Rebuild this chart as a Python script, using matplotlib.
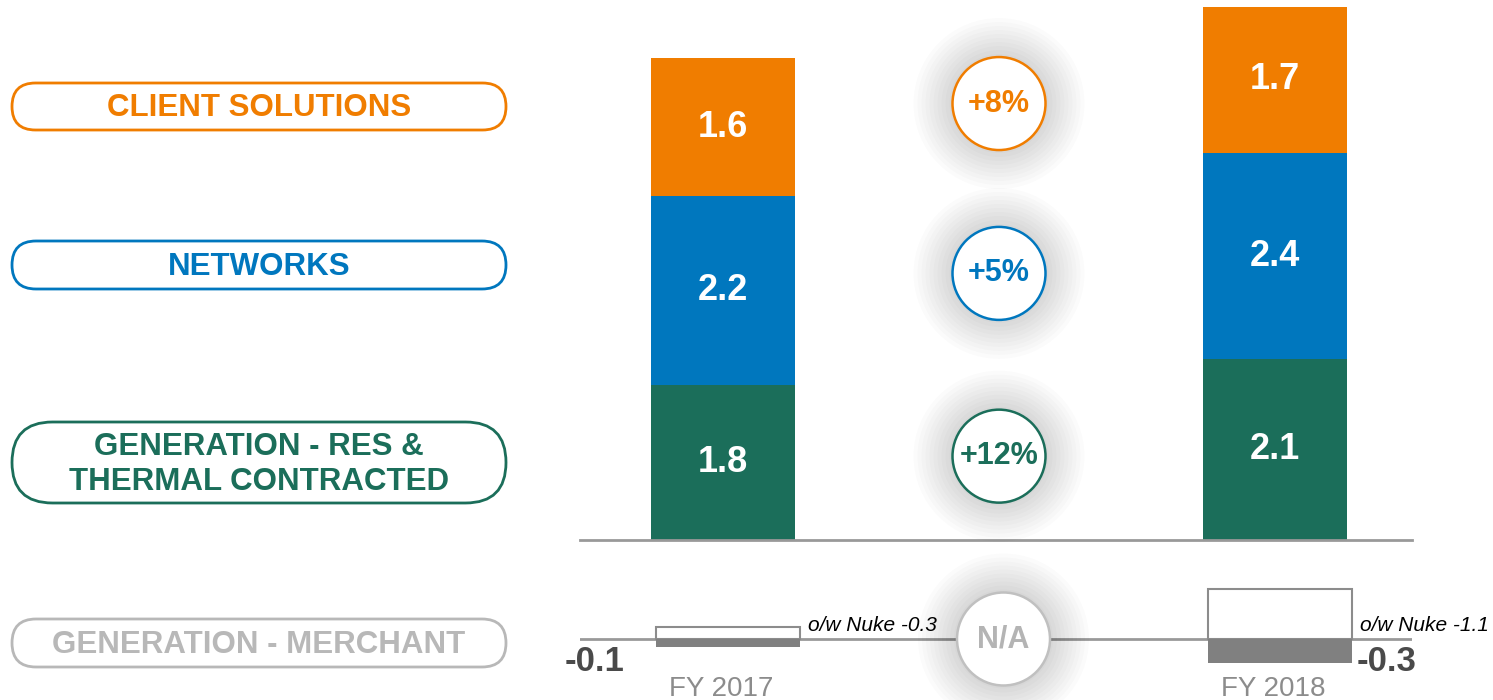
import matplotlib
matplotlib.use("Agg")
import matplotlib.pyplot as plt
from matplotlib.patches import Ellipse, FancyBboxPatch

plt.rcParams["font.family"] = ["Liberation Sans", "DejaVu Sans"]

# -----------------------------------------------------------------------------
# Data
# -----------------------------------------------------------------------------
years = ["FY 2017", "FY 2018"]
gen_res = [1.8, 2.1]        # Generation - RES & thermal contracted
networks = [2.2, 2.4]
client = [1.6, 1.7]
growth = ["+12%", "+5%", "+8%"]   # same order as the stack, bottom to top
merchant = [-0.1, -0.3]
nuke = [-0.3, -1.1]
merchant_box = [0.15, 0.62]  # white outline box above the merchant line
side_labels = ["CLIENT SOLUTIONS", "NETWORKS",
               "GENERATION - RES &\nTHERMAL CONTRACTED", "GENERATION - MERCHANT"]

ORANGE = "#F07D00"
BLUE = "#0077BE"
GREEN = "#1B6E5A"
LIGHT_GREY = "#B8B8B8"
LINE_GREY = "#999999"
BAR_GREY = "#808080"
stack_colors = [GREEN, BLUE, ORANGE]
label_colors = [ORANGE, BLUE, GREEN, LIGHT_GREY]

W, H = 1493, 700
fig = plt.figure(figsize=(W / 100, H / 100), dpi=100)

# background axes in pixel coordinates for the pill labels
ax_bg = fig.add_axes([0, 0, 1, 1])
ax_bg.set_xlim(0, W)
ax_bg.set_ylim(H, 0)
ax_bg.axis("off")

# pill boxes: (top, height) in pixels
pill_boxes = [(83, 47), (241, 48), (422, 81), (619, 48)]
for name, col, (top, hgt) in zip(side_labels, label_colors, pill_boxes):
    ax_bg.add_patch(FancyBboxPatch((12, top), 494, hgt,
                                   boxstyle=f"round,pad=0,rounding_size={hgt / 2}",
                                   facecolor="white", edgecolor=col, linewidth=2))
    ax_bg.text(259, top + hgt / 2 + 2, name, ha="center", va="center", color=col,
               fontsize=22.5, fontweight="bold", linespacing=1.2)

# -----------------------------------------------------------------------------
# Main stacked bars
# -----------------------------------------------------------------------------
PX_X = 552.0   # pixels per x unit
PX_Y = 86.0    # pixels per y unit (top axes)
ax = fig.add_axes([580 / W, 1 - 540 / H, 832 / W, 540 / H])
ax.set_xlim((580 - 723) / PX_X, (1412 - 723) / PX_X)
ax.set_ylim(0, 540 / PX_Y)
ax.axis("off")

x = [0, 1]
bw = 144 / PX_X
bottoms = [0.0, 0.0]
mids = []
for vals, col in zip([gen_res, networks, client], stack_colors):
    ax.bar(x, vals, bw, bottom=bottoms, color=col, zorder=2)
    seg_mid = []
    for xi, b, v in zip(x, bottoms, vals):
        ax.text(xi, b + v / 2, f"{v:.1f}", ha="center", va="center", color="white",
                fontsize=26, fontweight="bold", zorder=3)
        seg_mid.append(b + v / 2)
    mids.append(sum(seg_mid) / len(seg_mid))
    bottoms = [b + v for b, v in zip(bottoms, vals)]
ax.axhline(0, color=LINE_GREY, linewidth=2, zorder=4, clip_on=False)

R = 46.5


def badge(axis, cx, cy, text, col, sx, sy, text_col=None):
    """Circle with a soft grey glow and a bold label."""
    for k in range(3, 40, 4):
        axis.add_patch(Ellipse((cx, cy), 2 * (R + k) / sx, 2 * (R + k) / sy,
                               facecolor="black", edgecolor="none", alpha=0.017,
                               zorder=5, clip_on=False))
    axis.add_patch(Ellipse((cx, cy), 2 * R / sx, 2 * R / sy, facecolor="white",
                           edgecolor=col, linewidth=1.8, zorder=6, clip_on=False))
    axis.text(cx, cy, text, ha="center", va="center", color=text_col or col,
              fontsize=22, fontweight="bold", zorder=7)


for g, cy, col in zip(growth, mids, stack_colors):
    badge(ax, 0.5, cy, g, col, PX_X, PX_Y)

# -----------------------------------------------------------------------------
# Generation - merchant strip
# -----------------------------------------------------------------------------
PX_YB = 80.0
shift = 4.5 / PX_X
axb = fig.add_axes([580 / W, 0, 832 / W, 140 / H])
axb.set_xlim((580 - 723) / PX_X - shift, (1412 - 723) / PX_X - shift)
axb.set_ylim(-61 / PX_YB, 79 / PX_YB)
axb.axis("off")

axb.axhline(0, color=LINE_GREY, linewidth=2, zorder=1)
axb.bar(x, merchant_box, bw, facecolor="white", edgecolor="#8C8C8C", linewidth=1.5, zorder=2)
axb.bar(x, merchant, bw, color=BAR_GREY, zorder=3)
badge(axb, 0.5, 0, "N/A", "#C0C0C0", PX_X, PX_YB, text_col="#B4B4B4")

for i, (xi, m, n, yr) in enumerate(zip(x, merchant, nuke, years)):
    axb.annotate(f"o/w Nuke {n:.1f}", xy=(xi + bw / 2, 0.1), xytext=(6, 0),
                 textcoords="offset points", ha="left", va="baseline",
                 fontsize=15, fontstyle="italic", color="black")
    if i == 0:
        axb.annotate(f"{m:.1f}", xy=(xi - bw / 2, -0.28), xytext=(-22, 0),
                     textcoords="offset points", ha="right", va="center",
                     fontsize=25, fontweight="bold", color="#4A4A4A")
    else:
        axb.annotate(f"{m:.1f}", xy=(xi + bw / 2, -0.28), xytext=(4, 0),
                     textcoords="offset points", ha="left", va="center",
                     fontsize=25, fontweight="bold", color="#4A4A4A")
    axb.text(xi - 0.012, -0.7125, yr, ha="center", va="baseline",
             fontsize=20, color="#8C8C8C")

fig.savefig("out.png", dpi=100)
